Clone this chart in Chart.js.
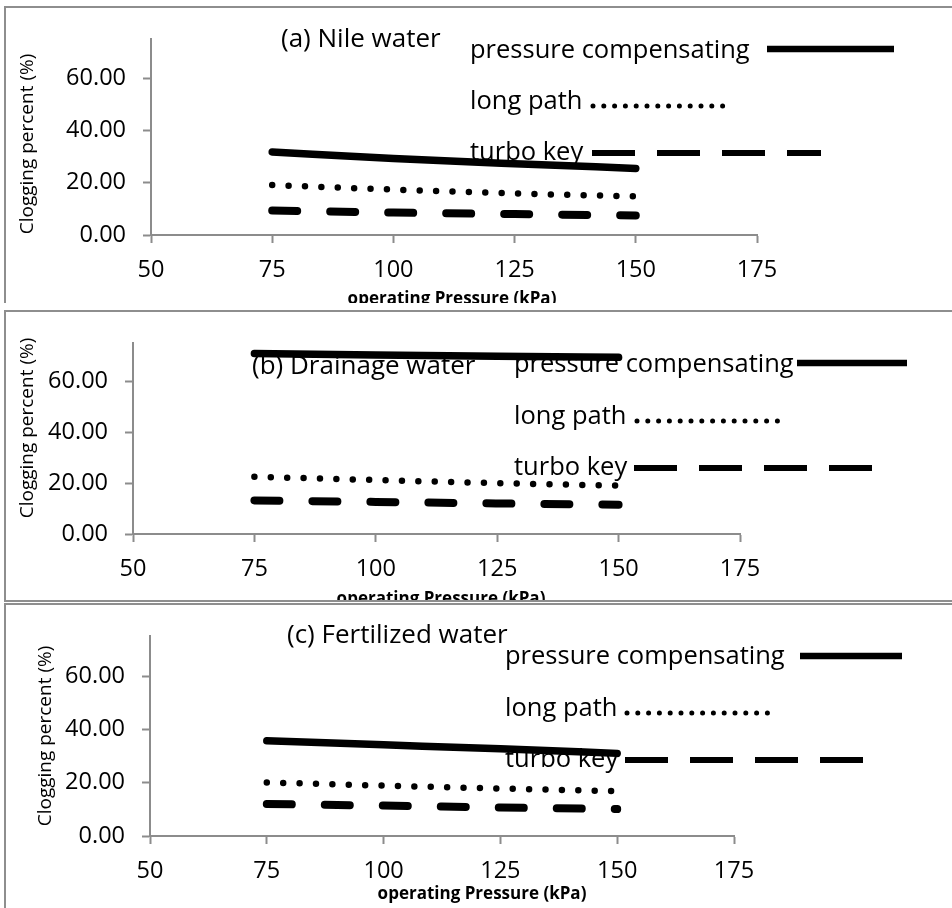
<!DOCTYPE html>
<html>
<head>
<meta charset="utf-8">
<script src="https://cdn.jsdelivr.net/npm/chart.js@4.4.1/dist/chart.umd.min.js"></script>
<style>
    html, body { margin: 0; padding: 0; background: #fff; }
    body { width: 952px; height: 908px; position: relative; overflow: hidden; }
    .panel {
        position: absolute; left: 4px; width: 960px; background: #fff;
        border: 2px solid #8e8e8e; border-right: none; overflow: hidden;
    }
    .panel canvas { position: absolute; left: 0; top: 0; }
</style>
</head>
<body>
<div class="panel" style="top:6px;height:295px;border-bottom:none"><canvas id="ca"></canvas></div>
<div class="panel" style="top:310px;height:288px"><canvas id="cb"></canvas></div>
<div class="panel" style="top:603px;height:400px;border-bottom:none"><canvas id="cc"></canvas></div>
<script>
(function () {
    'use strict';

    // operating pressure (kPa)
    var PRESSURE = [75, 100, 125, 150];

    // clogging percent (%)
    var NILE_PC = [31.8, 29.3, 27.3, 25.5];
    var NILE_LP = [19.1, 17.4, 15.9, 14.8];
    var NILE_TK = [9.4, 8.6, 8.0, 7.5];

    var DRAIN_PC = [70.9, 70.3, 69.8, 69.4];
    var DRAIN_LP = [22.5, 21.2, 20.0, 19.0];
    var DRAIN_TK = [13.2, 12.6, 12.0, 11.5];

    var FERT_PC = [35.7, 34.2, 32.7, 31.0];
    var FERT_LP = [20.1, 18.9, 17.8, 16.8];
    var FERT_TK = [12.0, 11.4, 10.7, 10.1];

    var X_TICKS = [50, 75, 100, 125, 150, 175];
    var Y_TICKS = [0, 20, 40, 60];
    var X_MIN = 50, X_MAX = 175, Y_MIN = 0, Y_MAX = 75;

    var SERIES_NAMES = ['pressure compensating', 'long path', 'turbo key'];
    var PANEL_TITLES = ['(a) Nile water', '(b) Drainage water', '(c) Fertilized water'];
    var X_TITLE = 'operating Pressure (kPa)';
    var Y_TITLE = 'Clogging percent (%)';

    var FONT = '"Open Sans", "DejaVu Sans", sans-serif';
    var AXIS_GRAY = '#8c8c8c';
    var CANVAS_W = 946;
    var X_AXIS_H = 80;

    var PANELS = [
        {
            canvas: 'ca', height: 307,
            area: { left: 145, right: 751, top: 27 },
            series: [NILE_PC, NILE_LP, NILE_TK], title: PANEL_TITLES[0],
            titlePos: [275, 39], legendX: 464, legendY: [50, 101, 152],
            samples: [[761, 888, 41], [587, 720, 98], [586, 815, 145]],
            yTitle: [22, 136], xTitle: [446, 296]
        },
        {
            canvas: 'cb', height: 302,
            area: { left: 127, right: 734, top: 17 },
            series: [DRAIN_PC, DRAIN_LP, DRAIN_TK], title: PANEL_TITLES[1],
            titlePos: [246, 62], legendX: 508, legendY: [60, 112, 163],
            samples: [[791, 901, 51], [631, 773, 109], [628, 866, 156]],
            yTitle: [22, 116], xTitle: [435, 292]
        },
        {
            canvas: 'cc', height: 311,
            area: { left: 144, right: 728, top: 23 },
            series: [FERT_PC, FERT_LP, FERT_TK], title: PANEL_TITLES[2],
            titlePos: [281, 38], legendX: 499, legendY: [59, 111, 162],
            samples: [[794, 896, 51], [621, 764, 108], [619, 858, 155]],
            yTitle: [40, 131], xTitle: [476, 294]
        }
    ];

    // line looks shared by plot and key
    var STYLES = [
        { width: 7.5, dash: [], cap: 'round', keyWidth: 6.5, keyDash: [], keyCap: 'butt' },
        { width: 6.5, dash: [0, 16.4], cap: 'round', keyWidth: 5, keyDash: [0, 10.8], keyCap: 'round' },
        { width: 8, dash: [25, 33], cap: 'round', keyWidth: 6, keyDash: [43, 22], keyCap: 'butt' }
    ];

    function points(values) {
        var out = [];
        for (var i = 0; i < PRESSURE.length; i++) {
            out.push({ x: PRESSURE[i], y: values[i] });
        }
        return out;
    }

    var annotatePlugin = {
        id: 'annotate',
        afterDraw: function (chart) {
            var p = chart.options.plugins.annotate.panel;
            var ctx = chart.ctx;
            ctx.save();
            ctx.fillStyle = '#000';
            ctx.textAlign = 'left';
            ctx.textBaseline = 'alphabetic';
            ctx.font = '26px ' + FONT;
            ctx.fillText(p.title, p.titlePos[0], p.titlePos[1]);

            ctx.font = '25.5px ' + FONT;
            for (var i = 0; i < SERIES_NAMES.length; i++) {
                ctx.fillText(SERIES_NAMES[i], p.legendX, p.legendY[i]);
                var s = p.samples[i];
                var st = STYLES[i];
                ctx.beginPath();
                ctx.strokeStyle = '#000';
                ctx.lineWidth = st.keyWidth;
                ctx.lineCap = st.keyCap;
                ctx.setLineDash(st.keyDash);
                ctx.moveTo(s[0], s[2]);
                ctx.lineTo(s[1], s[2]);
                ctx.stroke();
            }
            ctx.setLineDash([]);

            ctx.font = 'bold 17px ' + FONT;
            ctx.textAlign = 'center';
            ctx.fillText(X_TITLE, p.xTitle[0], p.xTitle[1]);

            ctx.font = '19px ' + FONT;
            ctx.textBaseline = 'middle';
            ctx.translate(p.yTitle[0], p.yTitle[1]);
            ctx.rotate(-Math.PI / 2);
            ctx.fillText(Y_TITLE, 0, 0);
            ctx.restore();
        }
    };

    function build(p) {
        var canvas = document.getElementById(p.canvas);
        canvas.width = CANVAS_W;
        canvas.height = p.height;
        canvas.style.width = CANVAS_W + 'px';
        canvas.style.height = p.height + 'px';

        var datasets = [];
        for (var i = 0; i < p.series.length; i++) {
            datasets.push({
                label: SERIES_NAMES[i],
                data: points(p.series[i]),
                borderColor: '#000',
                backgroundColor: '#000',
                borderWidth: STYLES[i].width,
                borderDash: STYLES[i].dash,
                borderCapStyle: STYLES[i].cap,
                borderJoinStyle: 'round',
                cubicInterpolationMode: 'monotone',
                pointRadius: 0,
                pointHoverRadius: 0,
                fill: false
            });
        }

        var tickFont = { family: FONT, size: 23.5 };

        new Chart(canvas, {
            type: 'line',
            data: { datasets: datasets },
            plugins: [annotatePlugin],
            options: {
                responsive: false,
                animation: false,
                devicePixelRatio: 1,
                events: [],
                layout: {
                    padding: { left: 0, top: p.area.top, right: CANVAS_W - p.area.right, bottom: 0 }
                },
                plugins: {
                    legend: { display: false },
                    tooltip: { enabled: false },
                    annotate: { panel: p }
                },
                scales: {
                    x: {
                        type: 'linear',
                        min: X_MIN,
                        max: X_MAX,
                        afterBuildTicks: function (s) {
                            s.ticks = X_TICKS.map(function (v) { return { value: v }; });
                        },
                        afterFit: function (s) { s.height = X_AXIS_H; },
                        ticks: { color: '#000', font: tickFont, padding: 13, maxRotation: 0, autoSkip: false },
                        grid: {
                            display: true, drawOnChartArea: false, drawTicks: true,
                            tickLength: 8, tickColor: AXIS_GRAY, tickWidth: 2
                        },
                        border: { display: true, color: AXIS_GRAY, width: 2 }
                    },
                    y: {
                        type: 'linear',
                        min: Y_MIN,
                        max: Y_MAX,
                        afterBuildTicks: function (s) {
                            s.ticks = Y_TICKS.map(function (v) { return { value: v }; });
                        },
                        afterFit: function (s) { s.width = p.area.left; },
                        ticks: {
                            color: '#000', font: tickFont, padding: 17,
                            callback: function (v) { return Number(v).toFixed(2); }
                        },
                        grid: {
                            display: true, drawOnChartArea: false, drawTicks: true,
                            tickLength: 8, tickColor: AXIS_GRAY, tickWidth: 2
                        },
                        border: { display: true, color: AXIS_GRAY, width: 2 }
                    }
                }
            }
        });
    }

    function boot() {
        for (var i = 0; i < PANELS.length; i++) {
            build(PANELS[i]);
        }
    }

    if (document.readyState === 'loading') {
        document.addEventListener('DOMContentLoaded', boot);
    } else {
        boot();
    }
})();
</script>
</body>
</html>
